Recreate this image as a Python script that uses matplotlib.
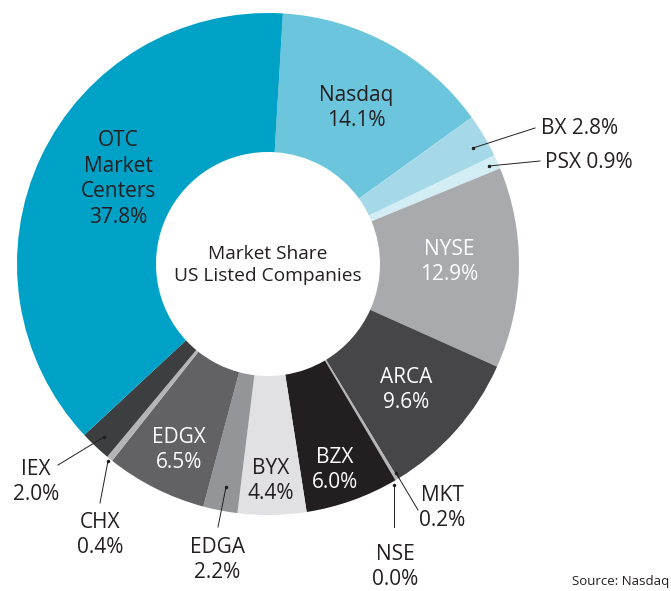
import numpy as np
import matplotlib
matplotlib.use('Agg')
import matplotlib.pyplot as plt

plt.rcParams['font.family'] = ['Open Sans', 'DejaVu Sans']

venues = ['Nasdaq', 'BX', 'PSX', 'NYSE', 'ARCA', 'MKT', 'NSE', 'BZX', 'BYX',
          'EDGA', 'EDGX', 'CHX', 'IEX', 'OTC Market Centers']
shares = [14.1, 2.8, 0.9, 12.9, 9.6, 0.2, 0.0, 6.0, 4.4, 2.2, 6.5, 0.4, 2.0, 37.8]
colors = ['#6bc5dd', '#a6d9e8', '#d3edf5', '#a9aaad', '#464648', '#b5b5b7', '#ffffff',
          '#231f20', '#e1e1e3', '#939598', '#626264', '#b5b5b7', '#3d3e40', '#00a1c6']

W, H = 671, 591
fig = plt.figure(figsize=(W / 100, H / 100), dpi=100)
ax = fig.add_axes([0, 0, 1, 1])

cx, cy = 268, H - 264
R, r_in = 251, 112
wedges, _ = ax.pie(shares, colors=colors, startangle=86.6, counterclock=False,
                   center=(cx, cy), radius=R, wedgeprops=dict(width=R - r_in, linewidth=0))
ax.set_xlim(0, W)
ax.set_ylim(0, H)
ax.set_aspect('equal')
ax.axis('off')

dark = '#231f20'
fs = 15
ls = 1.3

def pos(px, py):
    return px, H - py

# labels inside the ring
inside = {
    'Nasdaq': ((356, 108), dark),
    'NYSE': ((449, 262), 'white'),
    'ARCA': ((406, 390), 'white'),
    'BZX': ((335, 470), 'white'),
    'BYX': ((271, 481), dark),
    'EDGX': ((179, 450), 'white'),
}
for name, val in zip(venues, shares):
    if name in inside:
        (px, py), c = inside[name]
        ax.text(*pos(px, py), f'{name}\n{val:.1f}%', ha='center', va='center',
                fontsize=fs, color=c, linespacing=ls)

ax.text(*pos(118, 179), 'OTC\nMarket\nCenters\n37.8%', ha='center', va='center',
        fontsize=fs, color=dark, linespacing=ls)

ax.text(*pos(268, 265), 'Market Share\nUS Listed Companies', ha='center', va='center',
        fontsize=13.8, color=dark, linespacing=1.3)

# labels outside with leader lines: (text position, alignment, line start, line end)
outside = {
    'BX': ((541, 128), 'left', (473, 148), (535, 128), True),
    'PSX': ((545, 162), 'left', (489, 166), (540, 161), True),
    'IEX': ((36, 482), 'center', (104, 437), (58, 465), False),
    'CHX': ((100, 535), 'center', (108, 461), (100, 503), False),
    'EDGA': ((217, 560), 'center', (226, 487), (218, 527), False),
    'MKT': ((442, 508), 'center', (396, 473), (418, 510), False),
    'NSE': ((395, 567), 'center', (394, 485), (394, 527), False),
}
for name, val in zip(venues, shares):
    if name in outside:
        (px, py), ha, (x1, y1), (x2, y2), one_line = outside[name]
        ax.plot([x1, x2], [H - y1, H - y2], color=dark, lw=0.7)
        ax.plot([x1], [H - y1], 'o', color=dark, ms=1.5)
        txt = f'{name} {val:.1f}%' if one_line else f'{name}\n{val:.1f}%'
        ax.text(*pos(px, py), txt, ha=ha, va='center', fontsize=fs, color=dark,
                linespacing=ls)

ax.text(*pos(669, 582), 'Source: Nasdaq', ha='right', va='center', fontsize=9.5, color=dark)

plt.savefig('out.png', dpi=100, facecolor='white')
